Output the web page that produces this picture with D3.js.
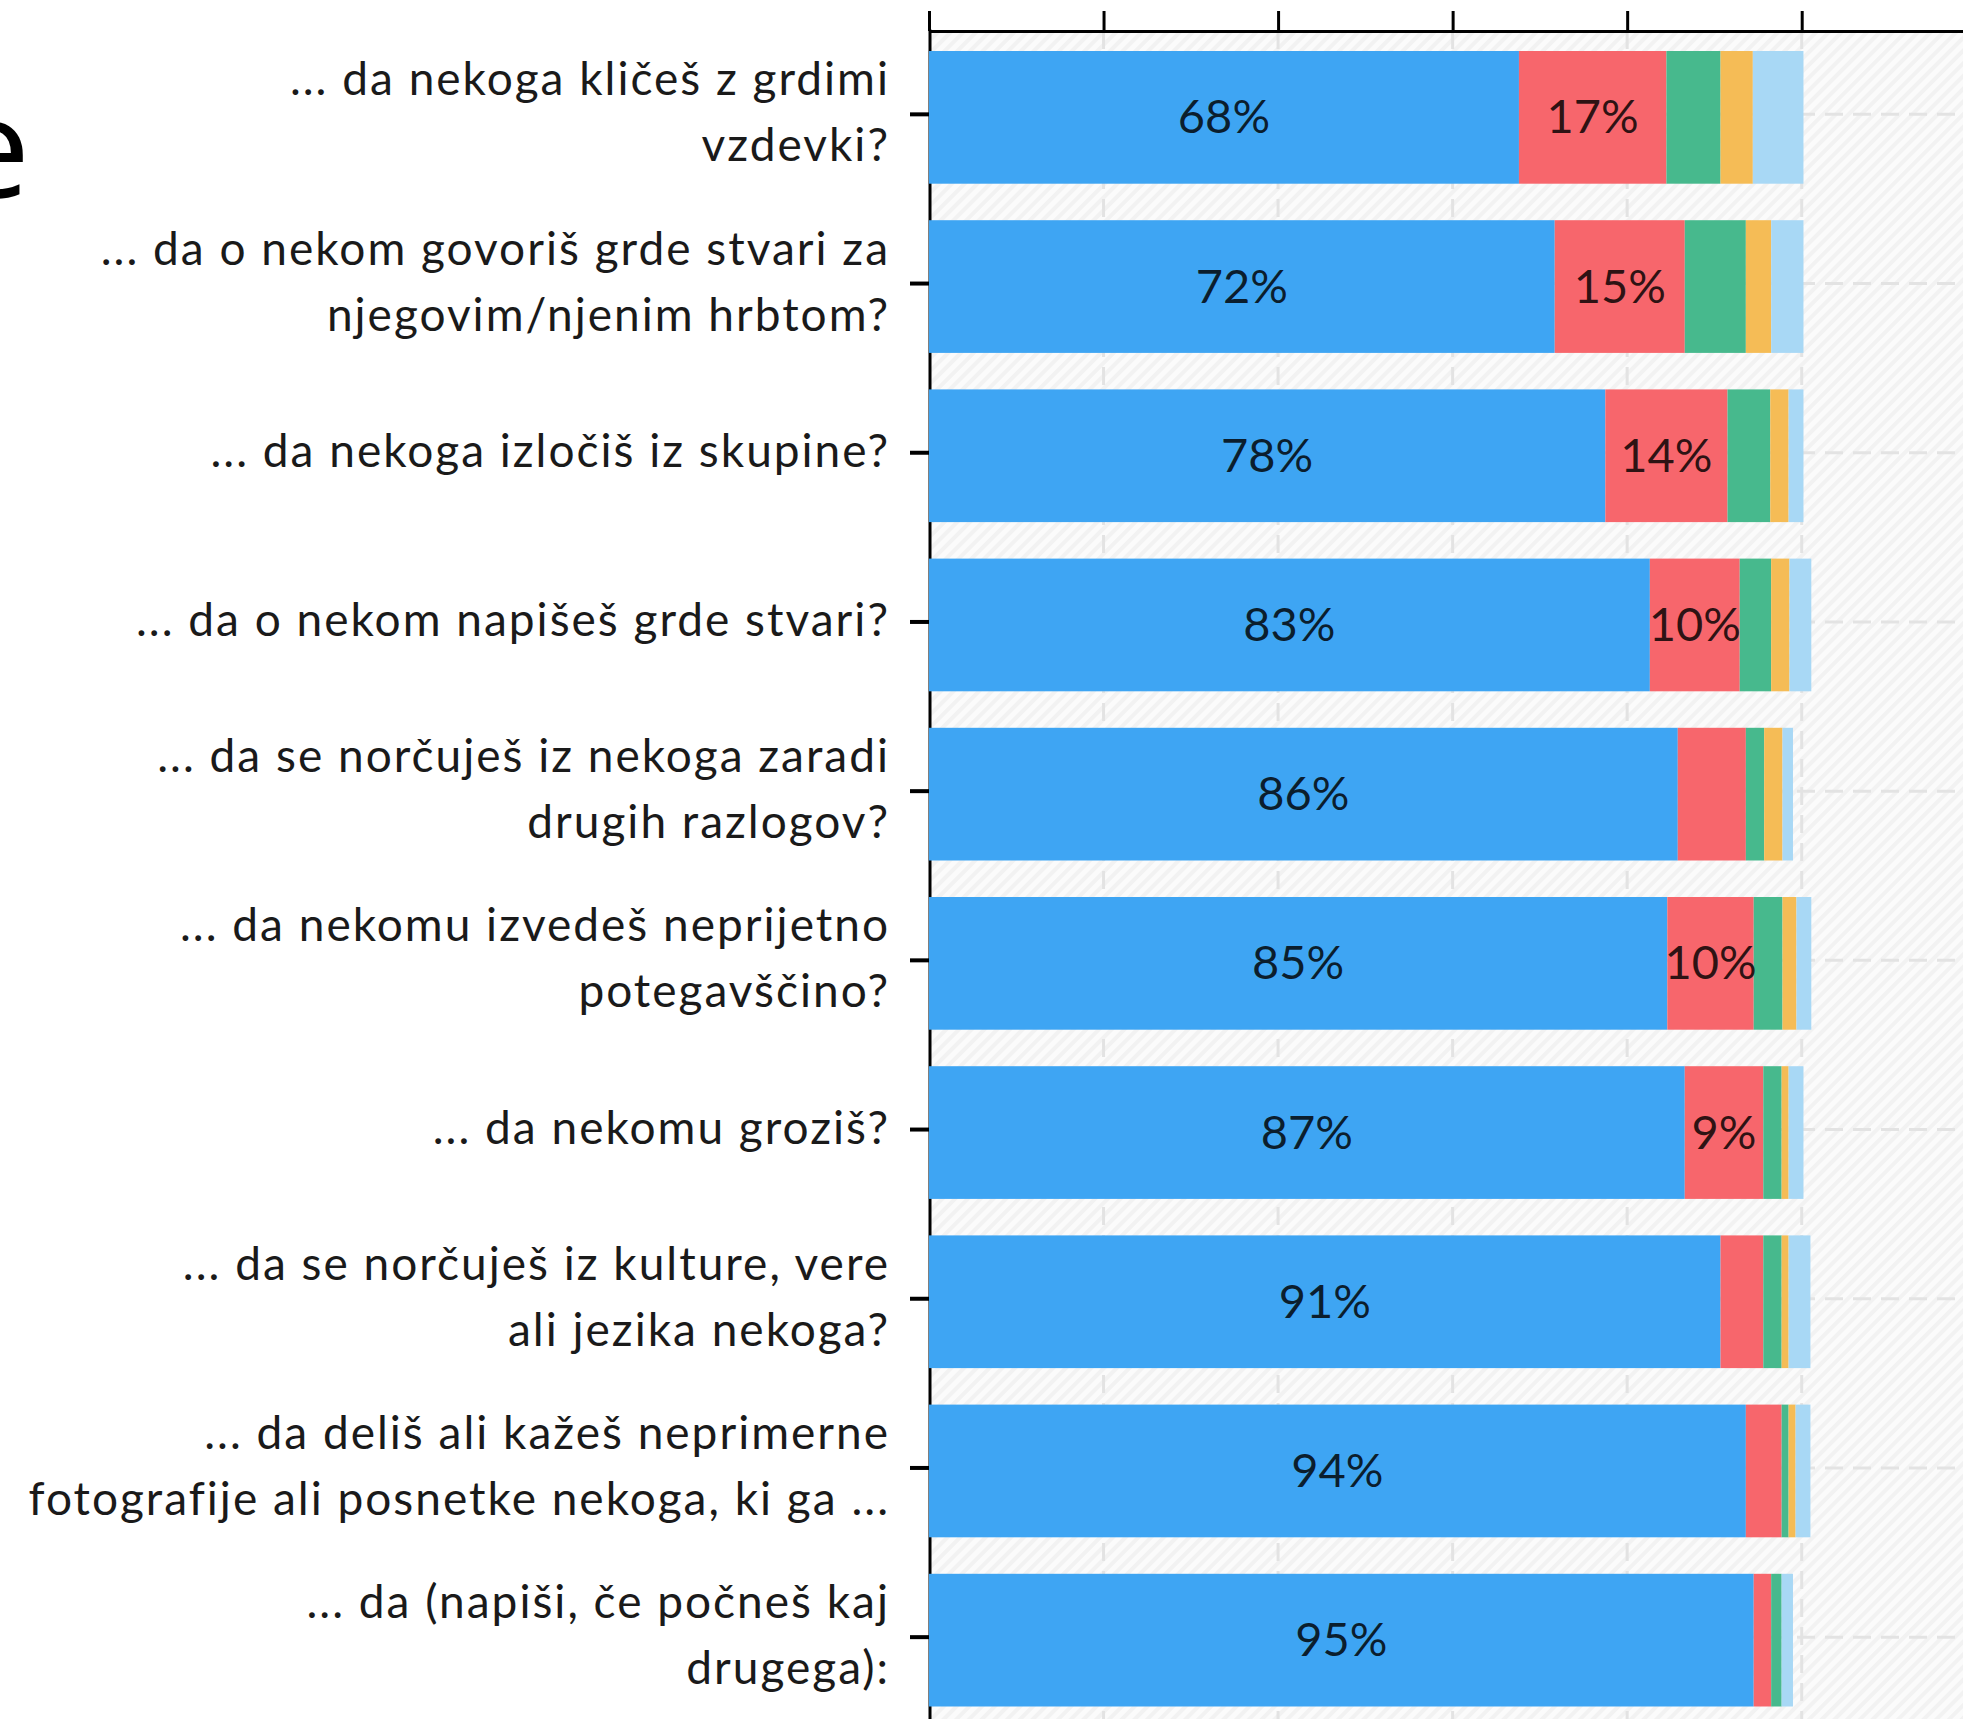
<!DOCTYPE html>
<html>
<head>
<meta charset="utf-8">
<script src="https://cdn.jsdelivr.net/npm/d3@7"></script>
<style>
  html, body { margin: 0; padding: 0; background: #ffffff; }
  svg { display: block; }
</style>
</head>
<body>
<script>
// ---------- data ----------
const categories = [
  "... da nekoga kličeš z grdimi\nvzdevki?",
  "... da o nekom govoriš grde stvari za\nnjegovim/njenim hrbtom?",
  "... da nekoga izločiš iz skupine?",
  "... da o nekom napišeš grde stvari?",
  "... da se norčuješ iz nekoga zaradi\ndrugih razlogov?",
  "... da nekomu izvedeš neprijetno\npotegavščino?",
  "... da nekomu groziš?",
  "... da se norčuješ iz kulture, vere\nali jezika nekoga?",
  "... da deliš ali kažeš neprimerne\nfotografije ali posnetke nekoga, ki ga ...",
  "... da (napiši, če počneš kaj\ndrugega):"
];
const seriesNames = ["s1", "s2", "s3", "s4", "s5"];
const series1 = [67.6, 71.7, 77.5, 82.6, 85.8, 84.6, 86.6, 90.7, 93.6, 94.5];
const series2 = [16.9, 14.9, 14.0, 10.3, 7.8, 9.9, 9.0, 4.9, 4.1, 2.0];
const series3 = [6.2, 7.0, 4.9, 3.6, 2.1, 3.3, 2.1, 2.1, 0.8, 1.2];
const series4 = [3.7, 2.9, 2.1, 2.1, 2.1, 1.6, 0.8, 0.8, 0.8, 0.0];
const series5 = [5.8, 3.7, 1.7, 2.5, 1.2, 1.7, 1.7, 2.5, 1.7, 1.3];
const xTicks = [0, 20, 40, 60, 80, 100, 120];
const titleText = "e";

// ---------- build ----------
const W = 1963, H = 1719;
const colors = ["#3ea5f3", "#f7666c", "#47b98d", "#f5bc56", "#a8d8f5"];
const allSeries = [series1, series2, series3, series4, series5];
const rows = categories.map((c, i) => {
  const r = { cat: c };
  seriesNames.forEach((s, k) => r[s] = allSeries[k][i]);
  return r;
});
const stacked = d3.stack().keys(seriesNames)(rows);

const x = d3.scaleLinear().domain([0, 120]).range([929, 929 + 8.727 * 120]);
const y = d3.scaleBand().domain(categories).range([32.75, 32.75 + 1692])
  .paddingInner(0.2157).paddingOuter(0.10785);
const tickOff = -3;

const svg = d3.select("body").append("svg")
  .attr("width", W).attr("height", H)
  .attr("viewBox", `0 0 ${W} ${H}`);

// hatch pattern
const defs = svg.append("defs");
const pat = defs.append("pattern")
  .attr("id", "hatch").attr("patternUnits", "userSpaceOnUse")
  .attr("width", 9).attr("height", 9)
  .attr("patternTransform", "rotate(45)");
pat.append("rect").attr("width", 9).attr("height", 9).attr("fill", "#fbfbfb");
pat.append("rect").attr("width", 4).attr("height", 9).attr("fill", "#f2f2f2");

const plotTop = 31;
svg.append("rect")
  .attr("x", x(0)).attr("y", plotTop)
  .attr("width", W - x(0)).attr("height", H - plotTop)
  .attr("fill", "url(#hatch)");

// vertical grid
svg.append("g").selectAll("line")
  .data(xTicks.filter(d => d > 0))
  .join("line")
  .attr("x1", d => x(d)).attr("x2", d => x(d))
  .attr("y1", plotTop).attr("y2", H)
  .attr("stroke", "#e3e3e3").attr("stroke-width", 3)
  .attr("stroke-dasharray", "18 10");

// horizontal grid
svg.append("g").selectAll("line")
  .data(categories)
  .join("line")
  .attr("x1", x(0)).attr("x2", W)
  .attr("y1", d => y(d) + y.bandwidth() / 2 + tickOff)
  .attr("y2", d => y(d) + y.bandwidth() / 2 + tickOff)
  .attr("stroke", "#e3e3e3").attr("stroke-width", 3)
  .attr("stroke-dasharray", "18 10");

// left axis line + ticks
svg.append("line")
  .attr("x1", x(0) + 1).attr("x2", x(0) + 1)
  .attr("y1", plotTop - 1.5).attr("y2", H)
  .attr("stroke", "#000").attr("stroke-width", 3);
svg.append("g").selectAll("line")
  .data(categories)
  .join("line")
  .attr("x1", x(0) - 19).attr("x2", x(0))
  .attr("y1", d => y(d) + y.bandwidth() / 2 + tickOff)
  .attr("y2", d => y(d) + y.bandwidth() / 2 + tickOff)
  .attr("stroke", "#000").attr("stroke-width", 4);

// top axis
const topAxis = svg.append("g")
  .attr("transform", `translate(0,${plotTop})`)
  .call(d3.axisTop(x).tickValues(xTicks).tickSize(20).tickSizeOuter(0).tickFormat(""));
topAxis.select(".domain").attr("stroke", "#000").attr("stroke-width", 3);
topAxis.selectAll(".tick line").attr("stroke", "#000").attr("stroke-width", 3);

// bars
const layers = svg.append("g").selectAll("g")
  .data(stacked)
  .join("g")
  .attr("fill", (d, i) => colors[i]);
layers.selectAll("rect")
  .data(d => d)
  .join("rect")
  .attr("x", d => x(d[0]))
  .attr("y", d => y(d.data.cat))
  .attr("width", d => Math.max(0, x(d[1]) - x(d[0])))
  .attr("height", y.bandwidth());

// value labels
const labelData = [];
stacked.forEach(layer => layer.forEach(d => {
  const v = d[1] - d[0];
  if (v >= 8.5) labelData.push({ v, cx: (x(d[0]) + x(d[1])) / 2, cat: d.data.cat });
}));
svg.append("g").selectAll("text")
  .data(labelData)
  .join("text")
  .attr("x", d => d.cx)
  .attr("y", d => y(d.cat) + y.bandwidth() / 2 + 16)
  .attr("text-anchor", "middle")
  .attr("font-family", "Lato, sans-serif")
  .attr("font-size", 47)
  .attr("fill", "rgba(0,0,0,0.82)")
  .text(d => Math.round(d.v) + "%");

// category labels
const lineH = 66;
const catG = svg.append("g");
categories.forEach(c => {
  const lines = c.split("\n");
  const cy = y(c) + y.bandwidth() / 2;
  const t = catG.append("text")
    .attr("text-anchor", "end")
    .attr("font-family", "Lato, sans-serif")
    .attr("font-size", 46)
    .attr("letter-spacing", "2px")
    .attr("fill", "#1a1a1a");
  lines.forEach((ln, i) => {
    t.append("tspan")
      .attr("x", 890)
      .attr("y", cy + 11 + (i - (lines.length - 1) / 2) * lineH)
      .text(ln);
  });
});

// cut-off title
svg.append("text")
  .attr("x", 30).attr("y", 198)
  .attr("text-anchor", "end")
  .attr("font-family", "'Open Sans', sans-serif")
  .attr("font-size", 140)
  .attr("fill", "#000")
  .text(titleText);
</script>
</body>
</html>
